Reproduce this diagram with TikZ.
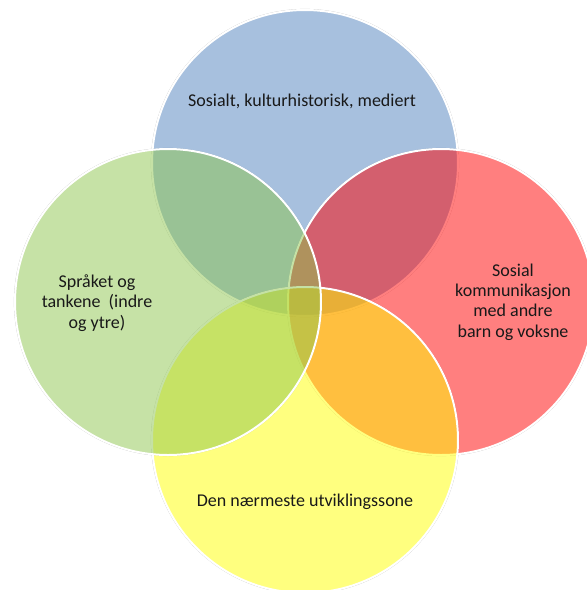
\documentclass[tikz,border=0pt]{standalone}
\usepackage{fontspec}
\setmainfont{Carlito}
\definecolor{cblue}{RGB}{79,129,189}
\definecolor{cred}{RGB}{255,0,0}
\definecolor{cyellow}{RGB}{255,255,0}
\definecolor{cgreen}{RGB}{141,197,77}
\begin{document}
\begin{tikzpicture}[x=1pt,y=-1pt,
  ring/.style={circle,minimum size=306pt,inner sep=0pt,fill=#1,fill opacity=0.5,draw=white,draw opacity=1,line width=2pt},
  shade/.style={circle,minimum size=307pt,inner sep=0pt,draw=black!25,line width=1.2pt},
  lbl/.style={font=\fontsize{18}{20.3}\selectfont,align=center,text=black!90}]
\useasboundingbox (0,0) rectangle (587,590);
% faint outer outlines
\node[shade] (s1) at (305,163) {};
\node[shade] (s2) at (441,302) {};
\node[shade] (s3) at (305,440) {};
\node[shade] (s4) at (168,302) {};
% circles
\node[ring=cblue] (top) at (305,163) {};
\node[ring=cred] (right) at (441,302) {};
\node[ring=cyellow] (bottom) at (305,440) {};
\node[ring=cgreen] (left) at (168,302) {};
% labels
\node[lbl] (ttop) at (302,101) {Sosialt, kulturhistorisk, mediert};
\node[lbl] (tleft) at (97,303) {Språket og\\tankene~~(indre\\og ytre)};
\node[lbl] (tright) at (513,302) {Sosial\\kommunikasjon\\med andre\\barn og voksne};
\node[lbl] (tbottom) at (305,502) {Den nærmeste utviklingssone};
\end{tikzpicture}
\end{document}
